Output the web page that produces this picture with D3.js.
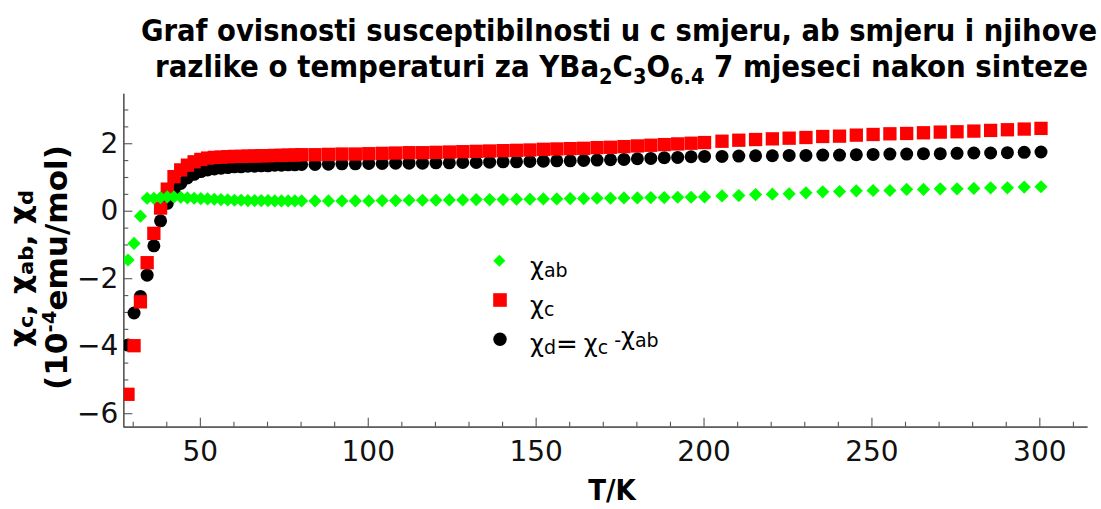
<!DOCTYPE html>
<html><head><meta charset="utf-8">
<script src="https://cdn.jsdelivr.net/npm/d3@7"></script>
<style>body{margin:0;background:#fff} svg{display:block}</style>
</head><body>
<svg id="c" width="1101" height="509"></svg>
<script>
// ---- data ----
const T = [28.6, 30.4, 32.3, 34.3, 36.3, 38.3, 40.3, 42.3, 44.3, 46.3, 48.3, 50.3, 52.3, 54.3, 56.3, 58.3, 60.3, 62.3, 64.3, 66.3, 68.3, 70.3, 72.3, 74.3, 76.3, 78.3, 80.3,
  84.3, 88.3, 92.3, 96.3, 100.3, 104.3, 108.3, 112.3, 116.3, 120.3, 124.3, 128.3, 132.3, 136.3, 140.3, 144.3, 148.3, 152.3, 156.3, 160.3, 164.3, 168.3, 172.3, 176.3, 180.3, 184.3, 188.3, 192.3, 196.3, 200.3,
  205.5, 210.5, 215.5, 220.5, 225.5, 230.5, 235.5, 240.5, 245.5, 250.5, 255.5, 260.5, 265.5, 270.5, 275.5, 280.5, 285.5, 290.5, 295.5, 300.5];
const chiAB = [-1.46, -0.97, -0.16, 0.37, 0.37, 0.39, 0.41, 0.41, 0.40, 0.38, 0.37, 0.36, 0.35, 0.34, 0.33, 0.32, 0.31, 0.31, 0.30, 0.30, 0.30, 0.30, 0.29, 0.29, 0.29, 0.29, 0.29,
  0.29, 0.29, 0.29, 0.29, 0.29, 0.30, 0.30, 0.31, 0.31, 0.31, 0.32, 0.32, 0.33, 0.33, 0.33, 0.34, 0.34, 0.35, 0.35, 0.36, 0.36, 0.37, 0.37, 0.38, 0.38, 0.39, 0.39, 0.40, 0.40, 0.41,
  0.44, 0.45, 0.48, 0.49, 0.50, 0.53, 0.56, 0.57, 0.59, 0.60, 0.60, 0.63, 0.63, 0.65, 0.65, 0.66, 0.68, 0.68, 0.70, 0.71];
const chiC = [-5.44, -4.00, -2.70, -1.54, -0.67, 0.08, 0.64, 1.01, 1.21, 1.35, 1.45, 1.52, 1.56, 1.58, 1.59, 1.60, 1.61, 1.61, 1.62, 1.62, 1.63, 1.63, 1.64, 1.64, 1.65, 1.65, 1.66,
  1.66, 1.67, 1.68, 1.68, 1.69, 1.70, 1.71, 1.72, 1.72, 1.73, 1.74, 1.75, 1.76, 1.77, 1.78, 1.79, 1.80, 1.82, 1.83, 1.84, 1.85, 1.87, 1.88, 1.90, 1.92, 1.94, 1.96, 1.98, 2.00, 2.02,
  2.06, 2.09, 2.11, 2.13, 2.15, 2.17, 2.20, 2.21, 2.24, 2.26, 2.28, 2.29, 2.31, 2.33, 2.34, 2.36, 2.38, 2.40, 2.42, 2.44];
const chiD = [-3.98, -3.03, -2.54, -1.91, -1.04, -0.30, 0.22, 0.60, 0.81, 0.97, 1.08, 1.16, 1.21, 1.24, 1.26, 1.28, 1.30, 1.30, 1.32, 1.32, 1.33, 1.33, 1.35, 1.35, 1.36, 1.36, 1.37,
  1.37, 1.38, 1.39, 1.39, 1.40, 1.40, 1.41, 1.41, 1.41, 1.42, 1.42, 1.43, 1.43, 1.44, 1.45, 1.45, 1.46, 1.47, 1.48, 1.48, 1.49, 1.50, 1.51, 1.52, 1.54, 1.55, 1.57, 1.58, 1.60, 1.61,
  1.61, 1.62, 1.63, 1.63, 1.64, 1.64, 1.65, 1.65, 1.66, 1.67, 1.68, 1.68, 1.69, 1.69, 1.70, 1.71, 1.71, 1.72, 1.73, 1.74];
const xTickLabels = [50, 100, 150, 200, 250, 300];
const yTickLabels = [-6, -4, -2, 0, 2];

// ---- layout ----
const svg = d3.select("#c");
const x = d3.scaleLinear().domain([27.2, 314.2]).range([123.3, 1087]);
const y = d3.scaleLinear().domain([-6.4, 3.48]).range([426.7, 93.3]);
const AX = "#555";
const tickFont = "DejaVu Sans, Verdana, sans-serif";

// minor ticks
const xMinor = d3.range(30, 315, 10).filter(v => v % 50 !== 0);
const yMinor = d3.range(-6, 3.5, 0.5).filter(v => Math.abs(v % 2) > 1e-9);

function styleAxis(g) {
  g.select(".domain").attr("stroke", AX).attr("stroke-width", 1.2);
  g.selectAll(".tick line").attr("stroke", AX).attr("stroke-width", 1.1);
  g.selectAll(".tick text").attr("fill", "#111").style("font-family", tickFont).style("font-size", "28px");
}

const gx = svg.append("g").attr("transform", `translate(0,${y.range()[0]})`);
gx.call(d3.axisBottom(x).tickValues(xTickLabels).tickSize(-9).tickSizeOuter(0).tickPadding(14));
styleAxis(gx);
const gxm = svg.append("g").attr("transform", `translate(0,${y.range()[0]})`);
gxm.call(d3.axisBottom(x).tickValues(xMinor).tickSize(-5).tickSizeOuter(0).tickFormat(""));
styleAxis(gxm);

const gy = svg.append("g").attr("transform", `translate(${x.range()[0]},0)`);
gy.call(d3.axisLeft(y).tickValues(yTickLabels).tickSize(-9).tickSizeOuter(0).tickPadding(5));
styleAxis(gy);
const gym = svg.append("g").attr("transform", `translate(${x.range()[0]},0)`);
gym.call(d3.axisLeft(y).tickValues(yMinor).tickSize(-5).tickSizeOuter(0).tickFormat(""));
styleAxis(gym);

// clip
svg.append("clipPath").attr("id", "pc").append("rect")
  .attr("x", x.range()[0] + 0.6).attr("y", 0).attr("width", 1101).attr("height", y.range()[0]);
const plot = svg.append("g").attr("clip-path", "url(#pc)");

const rows = T.map((t, i) => ({ t, ab: chiAB[i], c: chiC[i], d: chiD[i] }));

plot.selectAll("circle.d").data(rows).join("circle")
  .attr("cx", r => x(r.t)).attr("cy", r => y(r.d)).attr("r", 6.5).attr("fill", "#000");
const S = 13.3;
plot.selectAll("rect.c").data(rows).join("rect")
  .attr("x", r => x(r.t) - S / 2).attr("y", r => y(r.c) - S / 2)
  .attr("width", S).attr("height", S).attr("fill", "#ff0000");
const D = 6.6;
plot.selectAll("path.ab").data(rows).join("path")
  .attr("d", r => `M${x(r.t)},${y(r.ab) - D}L${x(r.t) + D},${y(r.ab)}L${x(r.t)},${y(r.ab) + D}L${x(r.t) - D},${y(r.ab)}Z`)
  .attr("fill", "#00ff00");

// ---- title ----
const titleFont = "'DejaVu Sans Condensed', 'DejaVu Sans', sans-serif";
svg.append("text").attr("x", 141).attr("y", 41)
  .attr("textLength", 956).attr("lengthAdjust", "spacingAndGlyphs")
  .style("font-family", titleFont).style("font-weight", "bold").style("font-size", "30px")
  .style("font-stretch", "condensed")
  .text("Graf ovisnosti susceptibilnosti u c smjeru, ab smjeru i njihove");
const t2 = svg.append("text").attr("x", 155).attr("y", 77)
  .attr("textLength", 933).attr("lengthAdjust", "spacingAndGlyphs")
  .style("font-family", titleFont).style("font-weight", "bold").style("font-size", "30px")
  .style("font-stretch", "condensed");
t2.append("tspan").text("razlike o temperaturi za YBa");
t2.append("tspan").attr("dy", 7).style("font-size", "21px").text("2");
t2.append("tspan").attr("dy", -7).text("C");
t2.append("tspan").attr("dy", 7).style("font-size", "21px").text("3");
t2.append("tspan").attr("dy", -7).text("O");
t2.append("tspan").attr("dy", 7).style("font-size", "21px").text("6.4");
t2.append("tspan").attr("dy", -7).text(" 7 mjeseci nakon sinteze");

// ---- axis labels ----
svg.append("text").attr("x", 612).attr("y", 500).attr("text-anchor", "middle")
  .style("font-family", titleFont).style("font-weight", "bold").style("font-size", "29px")
  .text("T/K");

const yl1 = svg.append("text").attr("transform", "translate(33,268.5) rotate(-90)")
  .attr("text-anchor", "middle").attr("textLength", 157).attr("lengthAdjust", "spacingAndGlyphs")
  .style("font-family", tickFont).style("font-weight", "bold").style("font-size", "28px");
[["χ", "c", ", "], ["χ", "ab", ", "], ["χ", "d", ""]].forEach(([g, s, tail]) => {
  yl1.append("tspan").attr("dy", -3).text(g);
  yl1.append("tspan").attr("dy", 3).style("font-size", "20px").text(s);
  if (tail) yl1.append("tspan").text(tail);
});
const yl2 = svg.append("text").attr("transform", "translate(67,267.5) rotate(-90)")
  .attr("text-anchor", "middle").attr("textLength", 245).attr("lengthAdjust", "spacingAndGlyphs")
  .style("font-family", tickFont).style("font-weight", "bold").style("font-size", "30px");
yl2.append("tspan").text("(10");
yl2.append("tspan").attr("dy", -11).style("font-size", "19px").text("-4");
yl2.append("tspan").attr("dy", 11).text("emu/mol)");

// ---- legend ----
const legFont = "DejaVu Sans, Verdana, sans-serif";
const lg = svg.append("g");
lg.append("path").attr("d", `M499.3,${260.7 - 6}L${499.3 + 6},260.7L499.3,${260.7 + 6}L${499.3 - 6},260.7Z`).attr("fill", "#00ff00");
lg.append("rect").attr("x", 500 - 6.8).attr("y", 300 - 6.8).attr("width", 13.6).attr("height", 13.6).attr("fill", "#ff0000");
lg.append("circle").attr("cx", 500).attr("cy", 339.3).attr("r", 6.7).attr("fill", "#000");

function chi(text, sub) {
  text.append("tspan").attr("dy", -2).style("font-size", "24px").text("χ");
  text.append("tspan").attr("dy", 2).style("font-size", "19px").text(sub);
}
const l1 = lg.append("text").attr("x", 530).attr("y", 276.7).style("font-family", legFont).style("font-size", "19px");
chi(l1, "ab");
const l2 = lg.append("text").attr("x", 530).attr("y", 316).style("font-family", legFont).style("font-size", "19px");
chi(l2, "c");
const l3 = lg.append("text").attr("x", 530).attr("y", 353.5).style("font-family", legFont).style("font-size", "19px");
chi(l3, "d");
l3.append("tspan").attr("dy", -1).style("font-size", "26px").text("=");
l3.append("tspan").attr("dy", 1).text(" ");
chi(l3, "c");
l3.append("tspan").text(" ");
l3.append("tspan").attr("dy", -7).style("font-size", "19px").text("-");
l3.append("tspan").attr("dy", 7).text("");
chi(l3, "ab");
</script>
</body></html>
